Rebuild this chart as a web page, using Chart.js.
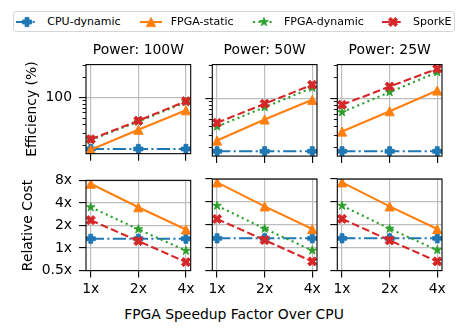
<!DOCTYPE html>
<html>
<head>
<meta charset="utf-8">
<script src="https://cdn.jsdelivr.net/npm/chart.js@4.4.1/dist/chart.umd.min.js"></script>
<style>
  body { margin: 0; background: #fff; }
  #fig { position: relative; width: 468px; height: 335px; overflow: hidden; font-family: "DejaVu Sans", sans-serif; color: #000; }
  #fig canvas { position: absolute; }
  #legend { position: absolute; left: 13px; top: 11px; width: 442px; height: 21px; box-sizing: border-box;
            border: 1px solid #d6d6d6; border-radius: 3px; }
  .leg-text { position: absolute; font-size: 11px; line-height: 14px; white-space: nowrap; }
  #supx { position: absolute; left: 0; width: 468px; top: 306.7px; text-align: center; font-size: 13.9px; line-height: 14px; white-space: nowrap; }
</style>
</head>
<body>
<div id="fig">
  <div id="legend"></div>
  <div id="supx">FPGA Speedup Factor Over CPU</div>
</div>
<script>
// --- data ---
const speedups = ['1x', '2x', '4x'];
const powerTitles = ['Power: 100W', 'Power: 50W', 'Power: 25W'];
const seriesNames = ['CPU-dynamic', 'FPGA-static', 'FPGA-dynamic', 'SporkE'];

// efficiency (%), one row per series (same order as seriesNames)
const eff100W = [[17.6, 17.6, 17.6], [17.1, 33.8, 65.6], [23.8, 44.6, 86.5], [24.5, 46.0, 89.4]];
const eff50W  = [[17.6, 17.6, 17.6], [25.1, 50.4, 96.7], [39.9, 75.7, 144], [45.2, 84.8, 159]];
const eff25W  = [[17.6, 17.6, 17.6], [33.8, 66.3, 131.6], [64.1, 124.5, 241], [82.0, 150, 270]];

// relative cost (x)
const cost100W = [[1.33, 1.33, 1.33], [7.2, 3.5, 1.77], [3.5, 1.78, 0.92], [2.35, 1.24, 0.65]];
const cost50W  = [[1.33, 1.33, 1.33], [7.25, 3.5, 1.76], [3.57, 1.78, 0.92], [2.39, 1.26, 0.66]];
const cost25W  = [[1.33, 1.33, 1.33], [7.25, 3.5, 1.76], [3.57, 1.78, 0.93], [2.40, 1.25, 0.66]];

const effTicks = [100];
const effMinorTicks = [20, 30, 40, 50, 60, 70, 80, 90, 200, 300];
const costTicks = [0.5, 1, 2, 4, 8];
const costTickLabels = ['0.5x', '1x', '2x', '4x', '8x'];

// --- styles ---
const colors = ['#1f77b4', '#ff7f0e', '#2ca02c', '#d62728'];
const dashes = [[13.3, 3.3, 2.1, 3.3], [], [2.1, 3.4], [7.7, 3.3]];
const markerKinds = ['plus', 'triangle', 'star', 'x'];
const markerSize = 9.2;
const gridColor = '#bdbdbd';
const tickFont = { family: 'DejaVu Sans', size: 13.9 };

Chart.defaults.font.family = 'DejaVu Sans';
Chart.defaults.color = '#000';

// grid geometry (px)
const areaLeft = [86, 212.3, 337.3];
const areaWidth = 104.7;
const areaTop = [64.6, 179.1];
const areaHeight = 91.5;
const canvasLeft = [0, 200, 325];
const canvasWidth = [203, 130, 130];
const canvasTop = [30, 165];
const canvasHeight = [139, 136];

// markers like matplotlib's P, ^, *, X (vector, drawn at the point's pixel)
function drawMarker(g, kind, x, y, color) {
  const s = markerSize;
  let pts;
  if (kind === 'plus') {
    pts = [[-1,-.42],[-1,.42],[-.42,.42],[-.42,1],[.42,1],[.42,.42],[1,.42],[1,-.42],[.42,-.42],[.42,-1],[-.42,-1],[-.42,-.42]]
      .map(p => [p[0] * s / 2, p[1] * s / 2]);
  } else if (kind === 'x') {
    pts = [[-1,-2],[-2,-1],[-1,0],[-2,1],[-1,2],[0,1],[1,2],[2,1],[1,0],[2,-1],[1,-2],[0,-1]]
      .map(p => [p[0] * s / 4, p[1] * s / 4]);
  } else if (kind === 'triangle') {
    pts = [[0, -s / 2], [-s / 2, s / 2], [s / 2, s / 2]];
  } else {
    pts = [];
    for (let k = 0; k < 10; k++) {
      const r = (k % 2 ? 0.381966 : 1) * s / 2;
      const a = -Math.PI / 2 + k * Math.PI / 5;
      pts.push([r * Math.cos(a), r * Math.sin(a)]);
    }
  }
  g.save();
  g.setLineDash([]);
  g.beginPath();
  pts.forEach((p, i) => i ? g.lineTo(x + p[0], y + p[1]) : g.moveTo(x + p[0], y + p[1]));
  g.closePath();
  g.fillStyle = color;
  g.strokeStyle = color;
  g.lineWidth = 0.9;
  g.lineJoin = kind === 'star' ? 'bevel' : 'miter';
  g.fill();
  g.stroke();
  g.restore();
}

// black box round each axes
const framePlugin = {
  id: 'frame',
  afterDraw(chart) {
    const { ctx, chartArea: a } = chart;
    ctx.save();
    ctx.strokeStyle = '#000';
    ctx.lineWidth = 1.1;
    ctx.strokeRect(a.left, a.top, a.right - a.left, a.bottom - a.top);
    ctx.restore();
  }
};

// markers on top of each dataset's line, clipped to the axes
const markerPlugin = {
  id: 'markers',
  afterDatasetDraw(chart, args) {
    const { ctx, chartArea: a } = chart;
    const k = args.index;
    ctx.save();
    ctx.beginPath();
    ctx.rect(a.left, a.top, a.right - a.left, a.bottom - a.top);
    ctx.clip();
    args.meta.data.forEach(pt => drawMarker(ctx, markerKinds[k], pt.x, pt.y, colors[k]));
    ctx.restore();
  }
};

function buildPanel(row, col) {
  const values = row === 0 ? [eff100W, eff50W, eff25W][col] : [cost100W, cost50W, cost25W][col];
  const yAxisWidth = areaLeft[col] - canvasLeft[col];
  const rightPad = canvasWidth[col] - yAxisWidth - areaWidth;
  const topPad = areaTop[row] - canvasTop[row];
  const xAxisHeight = canvasHeight[row] - topPad - areaHeight;

  const canvas = document.createElement('canvas');
  canvas.width = canvasWidth[col];
  canvas.height = canvasHeight[row];
  canvas.style.left = canvasLeft[col] + 'px';
  canvas.style.top = canvasTop[row] + 'px';
  document.getElementById('fig').appendChild(canvas);

  const scales = {
    x: {
      type: 'linear', min: -0.1, max: 2.1,
      afterBuildTicks: s => { s.ticks = speedups.map((_, i) => ({ value: i })); },
      afterFit: s => { s.height = xAxisHeight; },
      grid: { color: gridColor, lineWidth: 1.2, tickColor: '#000', tickLength: 7, tickWidth: 1.1 },
      border: { display: false },
      ticks: { display: row === 1, font: tickFont, color: '#000', padding: 3.5, maxRotation: 0, autoSkip: false,
               callback: (v, i) => speedups[i] }
    },
    y: {
      type: 'logarithmic', position: 'left', weight: 1,
      min: row === 0 ? 15 : 0.5, max: row === 0 ? 310 : 8,
      afterBuildTicks: s => { s.ticks = (row === 0 ? effTicks : costTicks).map(v => ({ value: v })); },
      afterFit: s => { s.width = yAxisWidth; },
      grid: { color: gridColor, lineWidth: 1.2, tickColor: '#000', tickLength: 7, tickWidth: 1.1 },
      border: { display: false },
      ticks: { display: col === 0, font: tickFont, color: '#000', padding: 7, autoSkip: false,
               callback: (v, i) => row === 0 ? String(effTicks[i]) : costTickLabels[i] },
      title: {
        display: col === 0,
        text: row === 0 ? 'Efficiency (%)' : 'Relative Cost',
        font: { family: 'DejaVu Sans', size: 13.9 }, color: '#000',
        padding: { top: row === 0 ? 23.7 : 20.2, bottom: 0 }
      }
    }
  };
  if (row === 0) {
    scales.yMinor = {
      type: 'logarithmic', axis: 'y', position: 'left', weight: 0,
      min: 15, max: 310,
      afterBuildTicks: s => { s.ticks = effMinorTicks.map(v => ({ value: v })); },
      afterFit: s => { s.width = 0; },
      grid: { drawOnChartArea: false, tickColor: '#000', tickLength: 3.5, tickWidth: 0.9 },
      border: { display: false },
      ticks: { display: false }
    };
  }

  return new Chart(canvas, {
    type: 'line',
    data: {
      datasets: seriesNames.map((name, k) => ({
        label: name,
        data: values[k].map((v, i) => ({ x: i, y: v })),
        xAxisID: 'x', yAxisID: 'y',
        borderColor: colors[k], backgroundColor: colors[k],
        borderWidth: 2.1, borderDash: dashes[k],
        pointRadius: 0,
        order: seriesNames.length - k,
        tension: 0
      }))
    },
    options: {
      responsive: false, devicePixelRatio: 1, animation: false, events: [],
      layout: { padding: { top: row === 0 ? 0 : topPad, right: rightPad, bottom: 0, left: 0 } },
      scales: scales,
      plugins: {
        legend: { display: false },
        tooltip: { enabled: false },
        title: {
          display: row === 0, fullSize: false, text: powerTitles[col], color: '#000',
          font: { family: 'DejaVu Sans', size: 13.9, weight: 'normal', lineHeight: 1.2 },
          padding: { top: 11.86, bottom: topPad - 11.86 - 16.68 }
        }
      }
    },
    plugins: [markerPlugin, framePlugin]
  });
}

for (let row = 0; row < 2; row++) {
  for (let col = 0; col < 3; col++) buildPanel(row, col);
}

// legend: line sample with marker, then the name
const legendHandleX = [16.4, 139.8, 253.1, 382.1];
const legendTextX = [47.3, 170.7, 284, 413];
const fig = document.getElementById('fig');
seriesNames.forEach((name, k) => {
  const c = document.createElement('canvas');
  c.width = 26; c.height = 16;
  c.style.left = Math.round(legendHandleX[k] - 2) + 'px';
  c.style.top = '14px';
  const g = c.getContext('2d');
  g.strokeStyle = colors[k];
  g.lineWidth = 2.1;
  g.setLineDash(dashes[k]);
  g.beginPath(); g.moveTo(2, 8); g.lineTo(24, 8); g.stroke();
  drawMarker(g, markerKinds[k], 13, 8, colors[k]);
  fig.appendChild(c);
  const t = document.createElement('div');
  t.className = 'leg-text';
  t.textContent = name;
  t.style.left = legendTextX[k] + 'px';
  t.style.top = '14.7px';
  fig.appendChild(t);
});
</script>
</body>
</html>
